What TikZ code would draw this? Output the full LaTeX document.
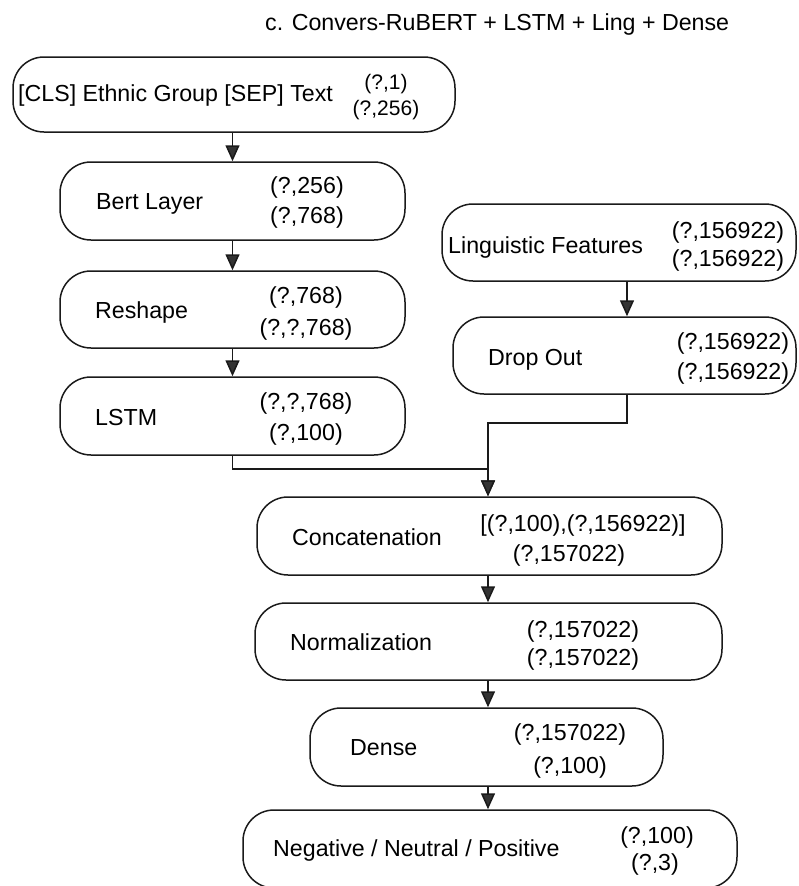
\documentclass[tikz,border=0pt]{standalone}
\usepackage{fontspec}
\setmainfont{Liberation Sans}
\usetikzlibrary{arrows.meta}
\definecolor{lc}{HTML}{1A1A1A}
\definecolor{ac}{HTML}{333333}
\newcommand{\fsmain}{\fontsize{23.2}{27}\selectfont}
\newcommand{\fssmall}{\fontsize{21}{25}\selectfont}
\begin{document}
\begin{tikzpicture}[x=1pt,y=-1pt,
  box/.style={draw=lc, line width=1.5pt, rounded corners=31pt, inner sep=0pt, fill=white},
  lbl/.style={font=\fsmain, inner sep=0pt, text height=16.6pt, text depth=0pt},
  slbl/.style={font=\fssmall, inner sep=0pt, text height=15pt, text depth=0pt},
  arr/.style={draw=lc, line width=1.5pt, -{Triangle[width=14pt,length=16pt,fill=ac]}}
]
\useasboundingbox (0,0) rectangle (798,886);
\clip (0,0) rectangle (798,886);
\fill[white] (0,0) rectangle (798,886);

% title
\node[lbl, anchor=west] (title) at (265,22) {c. Convers-RuBERT + LSTM + Ling + Dense};

% boxes
\node[box, minimum width=442pt, minimum height=75pt] (in) at (234,94.5) {};
\node[box, minimum width=345pt, minimum height=78pt] (bert) at (232.5,201) {};
\node[box, minimum width=345pt, minimum height=77pt] (reshape) at (232.5,309.5) {};
\node[box, minimum width=345pt, minimum height=78pt] (lstm) at (232.5,416) {};
\node[box, minimum width=354pt, minimum height=77pt] (ling) at (619,242.5) {};
\node[box, minimum width=343pt, minimum height=77pt] (drop) at (624.5,355.5) {};
\node[box, minimum width=465pt, minimum height=78pt] (concat) at (489.5,536) {};
\node[box, minimum width=467pt, minimum height=77pt] (norm) at (488.5,641.5) {};
\node[box, minimum width=353pt, minimum height=78pt] (dense) at (486.5,747) {};
\node[box, minimum width=494pt, minimum height=78pt] (final) at (490,849) {};

% helper x positions
\coordinate (mx) at (488,0);
\coordinate (lx) at (627,0);

% connectors
\draw[arr] (in.south -| bert.north) -- (bert.north);
\draw[arr] (bert.south) -- (reshape.north);
\draw[arr] (reshape.south) -- (lstm.north);
\draw[arr] (lstm.south) -- ++(0,13) -| (concat.north -| mx);
\draw[arr] (ling.south -| lx) -- (drop.north -| lx);
\draw[arr] (drop.south -| lx) -- ++(0,28) -| (concat.north -| mx);
\draw[arr] (concat.south -| mx) -- (norm.north -| mx);
\draw[arr] (norm.south -| mx) -- (dense.north -| mx);
\draw[arr] (dense.south -| mx) -- (final.north -| mx);

% labels
\node[lbl, anchor=west] (inT) at (18,93) {[CLS] Ethnic Group [SEP] Text};
\node[slbl] (inA) at (386,82) {(?,1)};
\node[slbl] (inB) at (386,108) {(?,256)};

\node[lbl, anchor=west] (bertT) at (96,201) {Bert Layer};
\node[lbl] (bertA) at (307,185) {(?,256)};
\node[lbl] (bertB) at (307,215) {(?,768)};

\node[lbl, anchor=west] (reshT) at (95,310) {Reshape};
\node[lbl] (reshA) at (306,295) {(?,768)};
\node[lbl] (reshB) at (306,327) {(?,?,768)};

\node[lbl, anchor=west] (lstmT) at (95,417) {LSTM};
\node[lbl] (lstmA) at (306,401) {(?,?,768)};
\node[lbl] (lstmB) at (306,432) {(?,100)};

\node[lbl, anchor=west] (lingT) at (448,245) {Linguistic Features};
\node[lbl] (lingA) at (728,230) {(?,156922)};
\node[lbl] (lingB) at (728,258) {(?,156922)};

\node[lbl, anchor=west] (dropT) at (488,357) {Drop Out};
\node[lbl] (dropA) at (733,341) {(?,156922)};
\node[lbl] (dropB) at (733,371) {(?,156922)};

\node[lbl, anchor=west] (concT) at (292,537) {Concatenation};
\node[lbl] (concA) at (583,523) {[(?,100),(?,156922)]};
\node[lbl] (concB) at (569,553) {(?,157022)};

\node[lbl, anchor=west] (normT) at (290,642) {Normalization};
\node[lbl] (normA) at (583,629) {(?,157022)};
\node[lbl] (normB) at (583,657) {(?,157022)};

\node[lbl, anchor=west] (densT) at (350,747) {Dense};
\node[lbl] (densA) at (570,732) {(?,157022)};
\node[lbl] (densB) at (570,765) {(?,100)};

\node[lbl, anchor=west] (finT) at (273,848) {Negative / Neutral / Positive};
\node[lbl] (finA) at (657,835) {(?,100)};
\node[lbl] (finB) at (655,862) {(?,3)};
\end{tikzpicture}
\end{document}
